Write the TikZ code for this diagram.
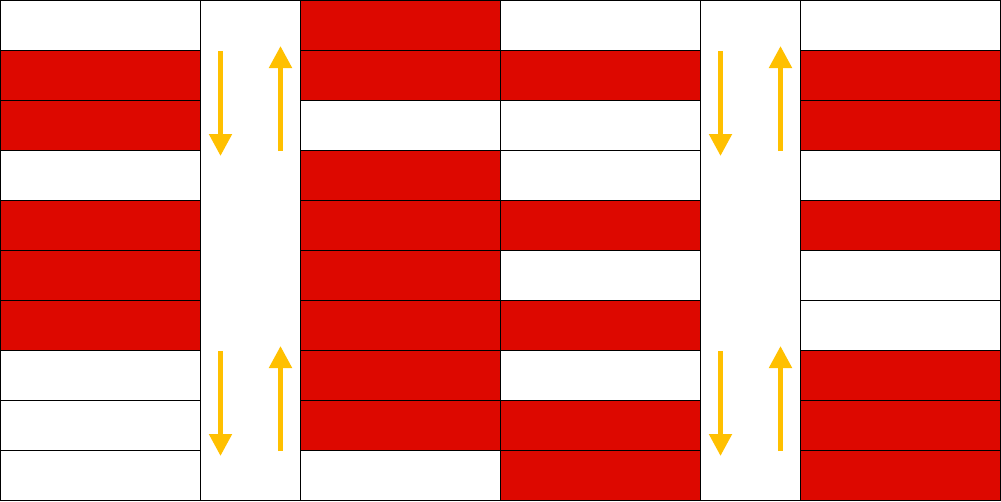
\documentclass[tikz,border=0pt]{standalone}
\usetikzlibrary{arrows.meta}
\definecolor{cellred}{HTML}{DD0800}
\definecolor{arrowgold}{HTML}{FFC000}
\begin{document}
\begin{tikzpicture}[x=1pt,y=-1pt,
  cell/.style={draw=black,line width=1pt,minimum width=200pt,minimum height=50pt,inner sep=0pt,outer sep=0pt,anchor=north west},
  gapcol/.style={draw=black,line width=1pt,minimum width=100pt,minimum height=500pt,inner sep=0pt,outer sep=0pt,anchor=north west},
  flow/.style={draw=arrowgold,line width=5pt,-{Triangle[width=22pt,length=22pt]}}]
\useasboundingbox (0,0) rectangle (1001,501);
% gap columns
\node[gapcol] (g1) at (200.5,0.5) {};
\node[gapcol] (g2) at (700.5,0.5) {};
% cell columns: x position and pattern (1 = red)
\foreach \cx/\pat [count=\ci] in {0.5/{0,1,1,0,1,1,1,0,0,0},300.5/{1,1,0,1,1,1,1,1,1,0},500.5/{0,1,0,0,1,0,1,0,1,1},800.5/{0,1,1,0,1,0,0,1,1,1}}{
  \foreach \v [count=\ri] in \pat {
    \ifnum\v=1
      \node[cell,fill=cellred] (c\ci r\ri) at (\cx,{0.5+50*(\ri-1)}) {};
    \else
      \node[cell,fill=white] (c\ci r\ri) at (\cx,{0.5+50*(\ri-1)}) {};
    \fi
  }
}
% arrows
\foreach \ax [count=\ai] in {220.5,720.5}{
  \foreach \ay [count=\bi] in {0,300}{
    \coordinate (d\ai\bi s) at (\ax,{51+\ay});
    \coordinate (d\ai\bi e) at (\ax,{156+\ay});
    \coordinate (u\ai\bi s) at ({\ax+60},{151+\ay});
    \coordinate (u\ai\bi e) at ({\ax+60},{46+\ay});
    \draw[flow] (d\ai\bi s) -- (d\ai\bi e);
    \draw[flow] (u\ai\bi s) -- (u\ai\bi e);
  }
}
\end{tikzpicture}
\end{document}
